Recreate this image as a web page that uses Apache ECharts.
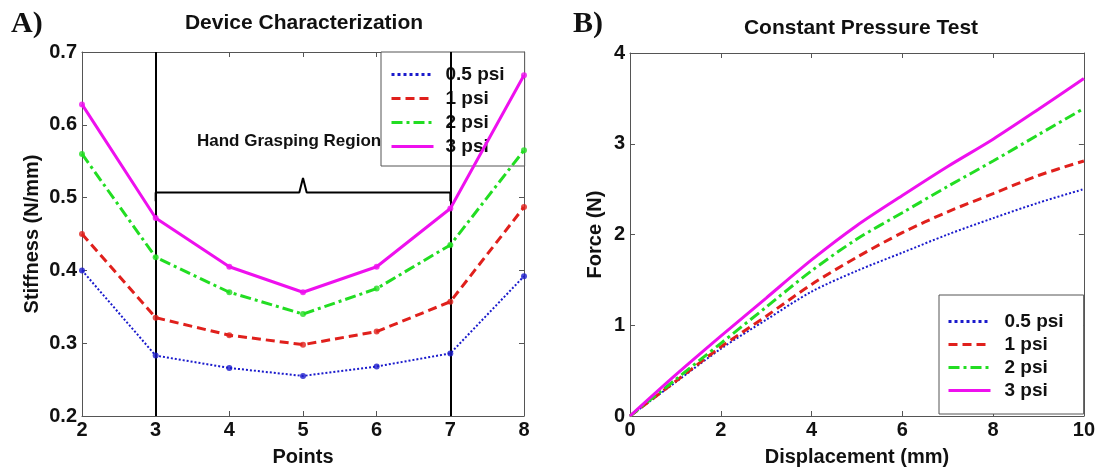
<!DOCTYPE html>
<html>
<head>
<meta charset="utf-8">
<script src="https://cdn.jsdelivr.net/npm/echarts@6/dist/echarts.min.js"></script>
<style>
  html, body { margin: 0; padding: 0; background: #fff; }
  #chart { width: 1098px; height: 472px; }
</style>
</head>
<body>
<div id="chart"></div>
<script>
// A) stiffness at each point
const points = [2, 3, 4, 5, 6, 7, 8]
const stiff05 = [0.400, 0.283, 0.266, 0.255, 0.268, 0.286, 0.392]
const stiff1 = [0.450, 0.335, 0.311, 0.298, 0.316, 0.357, 0.487]
const stiff2 = [0.560, 0.418, 0.370, 0.340, 0.375, 0.435, 0.565]
const stiff3 = [0.628, 0.472, 0.405, 0.370, 0.405, 0.485, 0.668]

// B) force vs displacement
const disp = [0, 1, 2, 3, 4, 5, 6, 7, 8, 9, 10]
const force05 = [0, 0.37, 0.74, 1.06, 1.37, 1.60, 1.80, 2.00, 2.18, 2.35, 2.50]
const force1 = [0, 0.38, 0.76, 1.10, 1.45, 1.75, 2.02, 2.25, 2.45, 2.65, 2.81]
const force2 = [0, 0.40, 0.80, 1.20, 1.60, 1.95, 2.24, 2.53, 2.81, 3.10, 3.39]
const force3 = [0, 0.45, 0.88, 1.30, 1.72, 2.10, 2.43, 2.75, 3.05, 3.38, 3.72]

const names = ['0.5 psi', '1 psi', '2 psi', '3 psi']
const stiffTicks = [0.2, 0.3, 0.4, 0.5, 0.6, 0.7]

// bracket over the hand grasping region (x, stiffness)
const bracket = [[3, 0.495], [3, 0.507], [4.95, 0.507], [5, 0.527], [5.05, 0.507], [7, 0.507], [7, 0.495]]

const colors = ['#1a1acc', '#e0201c', '#22dd22', '#ee10ee']
const lineTypes = ['dotted', [9, 5], [11, 4, 3, 4], 'solid']
const widths = [2, 3, 3, 3]

const sans = '"Liberation Sans", Arial, sans-serif'
const labelStyle = { color: '#111', fontSize: 20, fontWeight: 'bold', fontFamily: sans }
const nameStyle = { color: '#111', fontSize: 20, fontWeight: 'bold', fontFamily: sans }

function pair (xs, ys) {
  return xs.map((x, i) => [x, ys[i]])
}

function mainAxis (opts) {
  return Object.assign({
    type: 'value',
    axisLine: { show: true, onZero: false, lineStyle: { color: '#555', width: 1 } },
    axisTick: { show: true, inside: true, length: 5, lineStyle: { color: '#555' } },
    splitLine: { show: false },
    axisLabel: Object.assign({ margin: 4 }, labelStyle),
    nameTextStyle: nameStyle,
    nameLocation: 'middle'
  }, opts)
}

function boxAxis (opts) {
  return Object.assign({
    type: 'value',
    axisLine: { show: true, onZero: false, lineStyle: { color: '#555', width: 1 } },
    axisTick: { show: true, inside: true, length: 5, lineStyle: { color: '#555' } },
    splitLine: { show: false },
    axisLabel: { show: false }
  }, opts)
}

const stiffData = [stiff05, stiff1, stiff2, stiff3]
const forceData = [force05, force1, force2, force3]

const series = []
stiffData.forEach((ys, i) => {
  series.push({
    name: names[i],
    type: 'line',
    xAxisIndex: 0,
    yAxisIndex: 0,
    data: pair(points, ys),
    symbol: 'none',
    lineStyle: { color: colors[i], width: widths[i], type: lineTypes[i] },
    itemStyle: { color: colors[i] },
    z: 3 + i
  })
  series.push({
    name: names[i] + ' pts',
    type: 'scatter',
    xAxisIndex: 0,
    yAxisIndex: 0,
    data: pair(points, ys),
    symbolSize: 6,
    itemStyle: { color: colors[i] },
    z: 8
  })
})
forceData.forEach((ys, i) => {
  series.push({
    name: names[i],
    type: 'line',
    xAxisIndex: 2,
    yAxisIndex: 2,
    data: pair(disp, ys),
    symbol: 'none',
    smooth: 0.3,
    lineStyle: { color: colors[i], width: widths[i], type: lineTypes[i] },
    itemStyle: { color: colors[i] },
    z: 3 + i
  })
})

// region boundaries and bracket
series.push({
  name: 'region',
  type: 'line',
  xAxisIndex: 0,
  yAxisIndex: 0,
  data: bracket,
  symbol: 'none',
  lineStyle: { color: '#000', width: 2 },
  z: 2,
  markLine: {
    silent: true,
    symbol: 'none',
    label: { show: false },
    lineStyle: { color: '#000', width: 2, type: 'solid' },
    data: [{ xAxis: 3 }, { xAxis: 7 }]
  }
})

function makeLegend (left, top, padding, gap, textPad) {
  return {
    left: left,
    top: top,
    padding: padding,
    orient: 'vertical',
    backgroundColor: '#fff',
    borderColor: '#555',
    borderWidth: 1,
    borderRadius: 0,
    itemWidth: 42,
    itemHeight: 16,
    itemGap: gap,
    itemStyle: { opacity: 0 },
    lineStyle: { width: 3 },
    data: names,
    textStyle: { color: '#111', fontSize: 19, fontWeight: 'bold', fontFamily: sans, padding: [0, 0, 0, textPad] }
  }
}

const option = {
  animation: false,
  backgroundColor: '#fff',
  title: [
    { text: 'A)', left: 6, top: 4, textStyle: { fontFamily: '"Liberation Serif", "DejaVu Serif", serif', fontSize: 30, fontWeight: 'bold', color: '#111' } },
    { text: 'B)', left: 568, top: 4, textStyle: { fontFamily: '"Liberation Serif", "DejaVu Serif", serif', fontSize: 30, fontWeight: 'bold', color: '#111' } },
    { text: 'Device Characterization', left: 299, top: 8, textAlign: 'center', textStyle: { fontFamily: sans, fontSize: 21, fontWeight: 'bold', color: '#111' } },
    { text: 'Constant Pressure Test', left: 856, top: 13, textAlign: 'center', textStyle: { fontFamily: sans, fontSize: 21, fontWeight: 'bold', color: '#111' } }
  ],
  legend: [
    makeLegend(381, 52, [13, 20, 10, 9], 5, 7),
    makeLegend(939, 295, [17, 20, 14, 8], 4, 9)
  ],
  grid: [
    { left: 82, top: 52, width: 442, height: 364 },
    { left: 630, top: 53, width: 454, height: 364 }
  ],
  xAxis: [
    mainAxis({ gridIndex: 0, min: 2, max: 8, interval: 1, name: 'Points', nameGap: 31 }),
    boxAxis({ gridIndex: 0, position: 'top', min: 2, max: 8, interval: 1 }),
    mainAxis({ gridIndex: 1, min: 0, max: 10, interval: 2, name: 'Displacement (mm)', nameGap: 31 }),
    boxAxis({ gridIndex: 1, position: 'top', min: 0, max: 10, interval: 2 })
  ],
  yAxis: [
    mainAxis({
      gridIndex: 0,
      min: stiffTicks[0],
      max: stiffTicks[stiffTicks.length - 1],
      interval: 0.1,
      name: 'Stiffness (N/mm)',
      nameGap: 40,
      axisLabel: Object.assign({ margin: 5, formatter: v => v.toFixed(1) }, labelStyle)
    }),
    boxAxis({ gridIndex: 0, position: 'right', min: 0.2, max: 0.7, interval: 0.1 }),
    mainAxis({
      gridIndex: 1,
      min: 0,
      max: 4,
      interval: 1,
      name: 'Force (N)',
      nameGap: 25,
      axisLabel: Object.assign({ margin: 5 }, labelStyle)
    }),
    boxAxis({ gridIndex: 1, position: 'right', min: 0, max: 4, interval: 1 })
  ],
  graphic: [
    {
      type: 'text',
      left: 197,
      top: 133,
      style: { text: 'Hand Grasping Region', fill: '#111', font: 'bold 17px ' + sans },
      z: 10
    }
  ],
  series: series
}

const chart = echarts.init(document.getElementById('chart'))
chart.setOption(option)
</script>
</body>
</html>
